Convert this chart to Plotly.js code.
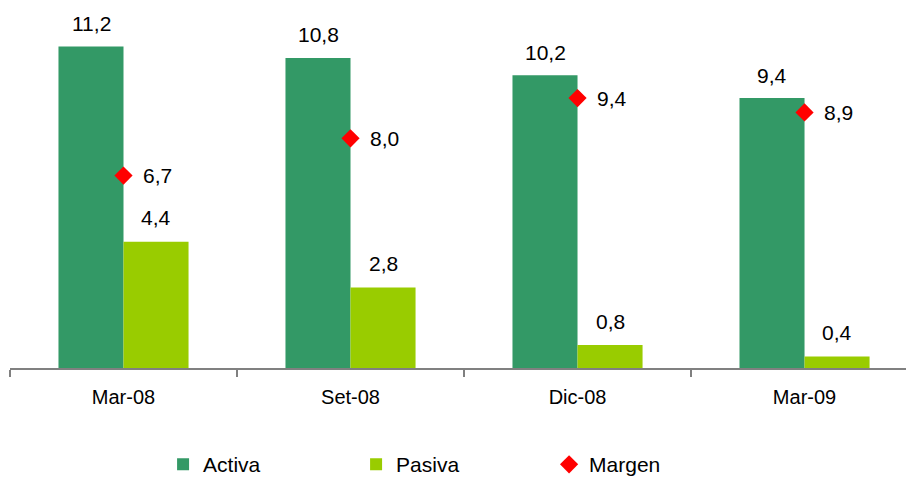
<!DOCTYPE html>
<html>
<head>
<meta charset="utf-8">
<script src="https://cdn.plot.ly/plotly-3.0.1.min.js"></script>
<style>html,body{margin:0;padding:0;background:#fff;}#chart{width:906px;height:479px;}</style>
</head>
<body>
<div id="chart"></div>
<script>
const categories = ["Mar-08", "Set-08", "Dic-08", "Mar-09"];
const activa = [11.2, 10.8, 10.2, 9.4];
const pasiva = [4.4, 2.8, 0.8, 0.4];
const margen = [6.7, 8.0, 9.4, 8.9];

const fmt = v => v.toFixed(1).replace('.', ',');
const FONT = "Liberation Sans, Arial, sans-serif";
const LBL = {size: 21, color: '#000', family: FONT};

const traces = [
  {type: 'bar', name: 'Activa', x: categories, y: activa,
   marker: {color: '#339966'}, hoverinfo: 'skip'},
  {type: 'bar', name: 'Pasiva', x: categories, y: pasiva,
   marker: {color: '#99CC00'}, hoverinfo: 'skip'},
  {type: 'scatter', mode: 'markers', name: 'Margen', x: categories, y: margen,
   marker: {symbol: 'diamond', color: '#FF0000', size: 14}, hoverinfo: 'skip'}
];

const annotations = [];
categories.forEach((c, i) => {
  annotations.push({x: c, y: activa[i], text: fmt(activa[i]), showarrow: false,
    xshift: -32.5, yshift: 23, yanchor: 'middle', font: LBL});
  annotations.push({x: c, y: pasiva[i], text: fmt(pasiva[i]), showarrow: false,
    xshift: 32.5, yshift: 24, yanchor: 'middle', font: LBL});
  annotations.push({x: c, y: margen[i], text: fmt(margen[i]), showarrow: false,
    xshift: 17, xanchor: 'left', yanchor: 'middle', font: LBL});
});

const layout = {
  width: 906, height: 479,
  margin: {l: 10, r: 0, t: 20, b: 111},
  paper_bgcolor: '#fff', plot_bgcolor: '#fff',
  font: {family: FONT, size: 20, color: '#000'},
  barmode: 'group', bargap: 0.427, bargroupgap: 0,
  showlegend: true,
  legend: {orientation: 'h', xref: 'container', yref: 'container',
    x: 0.18, xanchor: 'left', y: 0.03, yanchor: 'middle',
    entrywidth: 148, entrywidthmode: 'pixels', itemwidth: 30,
    font: {size: 21, family: FONT, color: '#000'}, traceorder: 'normal'},
  xaxis: {type: 'category', range: [-0.5, 3.447], showline: true, linecolor: '#808080', linewidth: 1.5,
    ticks: 'outside', tickson: 'boundaries', ticklen: 7, tickcolor: '#808080', tickwidth: 1.5,
    ticklabelstandoff: 10,
    showgrid: false, zeroline: false, fixedrange: true,
    tickfont: {size: 20, family: FONT, color: '#000'}},
  yaxis: {range: [0, 12.12], visible: false, showgrid: false, zeroline: false, fixedrange: true},
  annotations: annotations
};

Plotly.newPlot('chart', traces, layout, {displayModeBar: false, staticPlot: true});
</script>
</body>
</html>
